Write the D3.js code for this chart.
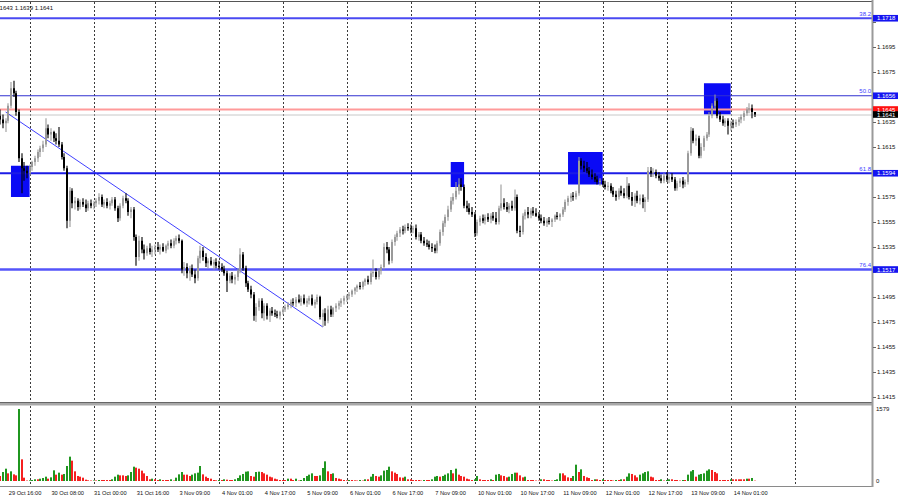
<!DOCTYPE html>
<html><head><meta charset="utf-8">
<script src="https://cdn.jsdelivr.net/npm/d3@7"></script>
<style>body{margin:0;background:#fff}svg{display:block}text{font-family:"Liberation Sans",Arial,sans-serif}</style>
</head><body><svg id="c" width="900" height="500"></svg>
<script>
// ---- DATA (EURUSD H1) ----
const opens=[
1.1640,1.1637,1.1634,1.1636,1.1648,1.1662,1.1658,1.1643,1.1606,1.1598,1.1596,1.1594,
1.1599,1.1603,1.1606,1.1611,1.1614,1.1617,1.1630,1.1625,1.1627,1.1622,1.1620,1.1617,1.1607,1.1598,1.1556,1.1580,1.1570,1.1572,1.1567,1.1571,1.1569,1.1566,1.1570,1.1568,
1.1570,1.1572,1.1575,1.1569,1.1571,1.1568,1.1570,1.1573,1.1566,1.1558,1.1568,1.1574,1.1572,1.1563,1.1565,1.1543,1.1527,1.1540,1.1533,1.1530,1.1534,1.1531,1.1533,1.1535,
1.1533,1.1535,1.1532,1.1536,1.1538,1.1536,1.1540,1.1542,1.1540,1.1517,1.1519,1.1514,1.1518,1.1513,1.1510,1.1526,1.1532,1.1527,1.1522,1.1524,1.1521,1.1523,1.1520,1.1519,
1.1517,1.1514,1.1508,1.1512,1.1509,1.1511,1.1516,1.1529,1.1518,1.1506,1.1501,1.1497,1.1480,1.1487,1.1492,1.1482,1.1488,1.1480,1.1484,1.1482,1.1481,1.1480,
1.1483,1.1485,1.1487,1.1489,1.1491,1.1490,1.1493,1.1491,1.1494,1.1490,1.1492,1.1494,1.1489,1.1491,1.1495,1.1479,1.1482,1.1476,1.1485,1.1481,1.1486,1.1488,1.1490,1.1492,1.1494,
1.1496,1.1497,1.1500,1.1502,1.1504,1.1503,1.1507,1.1509,1.1507,1.1514,1.1515,1.1511,1.1516,1.1519,1.1535,1.1533,1.1524,1.1539,1.1543,1.1546,1.1549,1.1548,1.1551,1.1550,1.1549,
1.1550,1.1543,1.1545,1.1540,1.1538,1.1537,1.1535,1.1534,1.1532,1.1538,1.1547,1.1554,1.1559,1.1565,1.1572,1.1575,1.1580,1.1585,1.1583,1.1568,1.1566,1.1563,1.1561,1.1546,
1.1555,1.1558,1.1556,1.1559,1.1557,1.1560,1.1558,1.1555,1.1566,1.1570,1.1567,1.1565,1.1568,1.1566,1.1575,1.1548,1.1547,1.1560,1.1563,1.1561,1.1564,1.1562,1.1560,1.1558,
1.1556,1.1554,1.1556,1.1555,1.1557,1.1560,1.1559,1.1561,1.1565,1.1571,1.1574,1.1576,1.1575,1.1578,1.1604,1.1600,1.1598,1.1596,1.1593,1.1591,1.1589,1.1587,1.1588,
1.1585,1.1583,1.1584,1.1580,1.1577,1.1575,1.1580,1.1578,1.1576,1.1584,1.1575,1.1572,1.1576,1.1572,1.1574,1.1571,1.1573,1.1596,1.1594,1.1595,1.1592,1.1590,1.1588,1.1592,1.1589,
1.1591,1.1589,1.1582,1.1586,1.1588,1.1585,1.1587,1.1610,1.1628,1.1620,1.1622,1.1608,1.1615,1.1622,1.1625,1.1640,1.1648,1.1652,1.1640,1.1637,1.1634,1.1636,1.1632,1.1634,1.1633,1.1635,1.1637,1.1639,1.1642,1.1645,1.1646,1.1643];
const highs=[
1.1645,1.1641,1.1638,1.1650,1.1667,1.1668,1.1660,1.1645,1.1610,1.1603,1.1600,1.1601,
1.1604,1.1608,1.1613,1.1616,1.1620,1.1638,1.1633,1.1630,1.1628,1.1626,1.1631,1.1619,1.1610,1.1600,1.1583,1.1582,1.1575,1.1574,1.1573,1.1574,1.1573,1.1572,1.1573,1.1572,
1.1574,1.1578,1.1577,1.1573,1.1574,1.1572,1.1575,1.1575,1.1568,1.1570,1.1576,1.1578,1.1574,1.1567,1.1567,1.1545,1.1544,1.1543,1.1537,1.1536,1.1538,1.1536,1.1537,1.1539,
1.1537,1.1538,1.1537,1.1540,1.1541,1.1542,1.1544,1.1545,1.1541,1.1523,1.1522,1.1520,1.1521,1.1517,1.1528,1.1536,1.1535,1.1530,1.1526,1.1527,1.1525,1.1526,1.1524,1.1522,
1.1520,1.1516,1.1514,1.1515,1.1513,1.1518,1.1534,1.1531,1.1520,1.1508,1.1504,1.1499,1.1490,1.1494,1.1494,1.1490,1.1490,1.1486,1.1487,1.1485,1.1484,1.1484,
1.1487,1.1489,1.1491,1.1493,1.1494,1.1495,1.1497,1.1496,1.1497,1.1494,1.1496,1.1497,1.1493,1.1497,1.1496,1.1485,1.1486,1.1488,1.1488,1.1487,1.1490,1.1492,1.1494,1.1496,1.1497,
1.1499,1.1501,1.1503,1.1505,1.1507,1.1508,1.1510,1.1512,1.1516,1.1525,1.1518,1.1518,1.1521,1.1538,1.1539,1.1535,1.1541,1.1545,1.1548,1.1551,1.1552,1.1553,1.1554,1.1553,1.1552,
1.1553,1.1547,1.1547,1.1543,1.1541,1.1540,1.1538,1.1537,1.1540,1.1549,1.1556,1.1561,1.1568,1.1575,1.1578,1.1587,1.1590,1.1590,1.1585,1.1572,1.1570,1.1567,1.1563,1.1557,
1.1560,1.1561,1.1561,1.1562,1.1562,1.1563,1.1563,1.1568,1.1585,1.1574,1.1571,1.1570,1.1572,1.1581,1.1577,1.1552,1.1562,1.1565,1.1567,1.1566,1.1567,1.1566,1.1563,1.1561,
1.1559,1.1558,1.1559,1.1558,1.1561,1.1563,1.1562,1.1567,1.1573,1.1576,1.1578,1.1579,1.1580,1.1607,1.1606,1.1604,1.1603,1.1599,1.1597,1.1594,1.1592,1.1590,1.1590,
1.1588,1.1587,1.1586,1.1583,1.1580,1.1582,1.1584,1.1582,1.1591,1.1586,1.1579,1.1578,1.1580,1.1577,1.1577,1.1575,1.1599,1.1599,1.1598,1.1597,1.1595,1.1593,1.1594,1.1595,1.1594,
1.1594,1.1591,1.1588,1.1590,1.1591,1.1589,1.1612,1.1631,1.1630,1.1625,1.1624,1.1618,1.1624,1.1627,1.1643,1.1650,1.1657,1.1654,1.1643,1.1640,1.1638,1.1638,1.1636,1.1637,1.1637,1.1639,1.1641,1.1644,1.1647,1.1650,1.1649,1.1643];
const lows=[
1.1633,1.1630,1.1627,1.1634,1.1646,1.1655,1.1640,1.1603,1.1578,1.1588,1.1590,1.1592,
1.1596,1.1600,1.1603,1.1607,1.1611,1.1615,1.1622,1.1620,1.1619,1.1617,1.1615,1.1605,1.1596,1.1550,1.1551,1.1566,1.1565,1.1564,1.1565,1.1567,1.1563,1.1564,1.1566,1.1565,
1.1567,1.1569,1.1567,1.1566,1.1566,1.1565,1.1568,1.1564,1.1555,1.1556,1.1566,1.1570,1.1560,1.1558,1.1540,1.1520,1.1524,1.1530,1.1525,1.1528,1.1529,1.1527,1.1529,1.1531,
1.1529,1.1531,1.1530,1.1533,1.1534,1.1534,1.1537,1.1538,1.1514,1.1512,1.1510,1.1508,1.1511,1.1506,1.1508,1.1522,1.1524,1.1519,1.1518,1.1520,1.1517,1.1518,1.1517,1.1515,
1.1512,1.1499,1.1506,1.1506,1.1505,1.1508,1.1514,1.1516,1.1503,1.1499,1.1494,1.1476,1.1475,1.1484,1.1478,1.1476,1.1477,1.1475,1.1480,1.1479,1.1478,1.1477,
1.1481,1.1483,1.1485,1.1486,1.1488,1.1487,1.1490,1.1488,1.1489,1.1487,1.1489,1.1488,1.1486,1.1489,1.1477,1.1471,1.1472,1.1474,1.1479,1.1479,1.1483,1.1485,1.1487,1.1489,1.1491,
1.1493,1.1495,1.1497,1.1499,1.1501,1.1501,1.1504,1.1505,1.1505,1.1511,1.1509,1.1509,1.1513,1.1517,1.1530,1.1521,1.1522,1.1536,1.1540,1.1543,1.1545,1.1546,1.1548,1.1546,1.1546,
1.1541,1.1540,1.1538,1.1536,1.1535,1.1533,1.1531,1.1530,1.1530,1.1536,1.1544,1.1551,1.1556,1.1563,1.1569,1.1573,1.1577,1.1580,1.1566,1.1563,1.1561,1.1559,1.1543,1.1544,
1.1552,1.1554,1.1553,1.1555,1.1554,1.1556,1.1553,1.1553,1.1564,1.1565,1.1563,1.1562,1.1564,1.1564,1.1546,1.1543,1.1545,1.1557,1.1558,1.1558,1.1560,1.1559,1.1556,1.1554,
1.1552,1.1551,1.1553,1.1551,1.1555,1.1557,1.1556,1.1559,1.1563,1.1568,1.1571,1.1572,1.1573,1.1576,1.1597,1.1595,1.1594,1.1591,1.1589,1.1587,1.1585,1.1584,1.1583,
1.1581,1.1580,1.1578,1.1575,1.1572,1.1573,1.1576,1.1574,1.1574,1.1573,1.1568,1.1567,1.1570,1.1569,1.1566,1.1563,1.1571,1.1591,1.1591,1.1590,1.1588,1.1586,1.1586,1.1587,1.1586,
1.1587,1.1580,1.1580,1.1583,1.1582,1.1583,1.1585,1.1608,1.1618,1.1616,1.1606,1.1606,1.1612,1.1620,1.1623,1.1638,1.1645,1.1638,1.1635,1.1632,1.1631,1.1625,1.1628,1.1630,1.1631,1.1632,1.1634,1.1636,1.1640,1.1642,1.1638,1.1639];
const closes=[
1.1637,1.1634,1.1636,1.1648,1.1662,1.1658,1.1643,1.1606,1.1598,1.1596,1.1594,1.1599,
1.1603,1.1606,1.1611,1.1614,1.1617,1.1630,1.1625,1.1627,1.1622,1.1620,1.1617,1.1607,1.1598,1.1556,1.1580,1.1570,1.1572,1.1567,1.1571,1.1569,1.1566,1.1570,1.1568,1.1570,
1.1572,1.1575,1.1569,1.1571,1.1568,1.1570,1.1573,1.1566,1.1558,1.1568,1.1574,1.1572,1.1563,1.1565,1.1543,1.1527,1.1540,1.1533,1.1530,1.1534,1.1531,1.1533,1.1535,1.1533,
1.1535,1.1532,1.1536,1.1538,1.1536,1.1540,1.1542,1.1540,1.1517,1.1519,1.1514,1.1518,1.1513,1.1510,1.1526,1.1532,1.1527,1.1522,1.1524,1.1521,1.1523,1.1520,1.1519,1.1517,
1.1514,1.1508,1.1512,1.1509,1.1511,1.1516,1.1529,1.1518,1.1506,1.1501,1.1497,1.1480,1.1487,1.1492,1.1482,1.1488,1.1480,1.1484,1.1482,1.1481,1.1480,1.1483,
1.1485,1.1487,1.1489,1.1491,1.1490,1.1493,1.1491,1.1494,1.1490,1.1492,1.1494,1.1489,1.1491,1.1495,1.1479,1.1482,1.1476,1.1485,1.1481,1.1486,1.1488,1.1490,1.1492,1.1494,1.1496,
1.1497,1.1500,1.1502,1.1504,1.1503,1.1507,1.1509,1.1507,1.1514,1.1515,1.1511,1.1516,1.1519,1.1535,1.1533,1.1524,1.1539,1.1543,1.1546,1.1549,1.1548,1.1551,1.1550,1.1549,1.1550,
1.1543,1.1545,1.1540,1.1538,1.1537,1.1535,1.1534,1.1532,1.1538,1.1547,1.1554,1.1559,1.1565,1.1572,1.1575,1.1580,1.1585,1.1583,1.1568,1.1566,1.1563,1.1561,1.1546,1.1555,
1.1558,1.1556,1.1559,1.1557,1.1560,1.1558,1.1555,1.1566,1.1570,1.1567,1.1565,1.1568,1.1566,1.1575,1.1548,1.1547,1.1560,1.1563,1.1561,1.1564,1.1562,1.1560,1.1558,1.1556,
1.1554,1.1556,1.1555,1.1557,1.1560,1.1559,1.1561,1.1565,1.1571,1.1574,1.1576,1.1575,1.1578,1.1604,1.1600,1.1598,1.1596,1.1593,1.1591,1.1589,1.1587,1.1588,1.1585,
1.1583,1.1584,1.1580,1.1577,1.1575,1.1580,1.1578,1.1576,1.1584,1.1575,1.1572,1.1576,1.1572,1.1574,1.1571,1.1573,1.1596,1.1594,1.1595,1.1592,1.1590,1.1588,1.1592,1.1589,1.1591,
1.1589,1.1582,1.1586,1.1588,1.1585,1.1587,1.1610,1.1628,1.1620,1.1622,1.1608,1.1615,1.1622,1.1625,1.1640,1.1648,1.1652,1.1640,1.1637,1.1634,1.1636,1.1632,1.1634,1.1633,1.1635,1.1637,1.1639,1.1642,1.1645,1.1646,1.1643,1.1641];
const volumes=[
110,197,270,168,212,146,124,1579,475,73,10,15,
22,37,37,51,66,95,51,80,234,139,183,139,
154,329,534,446,212,110,95,73,29,15,10,12,
12,22,22,22,22,22,37,95,139,124,124,110,
124,197,314,292,270,227,168,110,37,51,37,22,
37,22,22,22,37,10,73,146,197,139,139,110,
139,168,183,329,146,95,66,51,22,15,22,22,
37,29,22,22,37,66,124,154,205,212,110,95,
197,205,197,168,139,95,80,51,37,22,22,22,
51,51,22,51,10,22,66,110,139,168,110,110,
124,285,431,212,154,168,66,51,37,22,15,22,
22,15,10,22,10,37,37,95,154,110,95,124,
227,241,314,212,183,154,80,73,95,37,37,22,
22,22,10,22,22,22,37,95,110,95,110,139,
168,241,168,270,139,110,95,51,37,22,37,110,
37,22,22,22,37,22,139,154,124,110,80,95,
154,183,183,124,80,95,22,22,22,10,10,37,
37,22,22,10,22,37,168,168,124,80,66,110,
358,197,256,110,80,66,22,37,37,22,37,22,
22,22,10,22,22,37,37,95,168,154,124,80,
139,168,197,212,95,80,22,22,37,10,22,37,
37,22,22,10,22,22,139,212,241,95,139,154,
168,227,256,241,197,168,22,22,22,22,37,37,
37,37,37,37,51,51,66,8];

const timeTickBars=[-13,3,19,35,51,67,83,99,115,131,147,163,179,195,211,227,243,259,275];
const timeTickLabels=["29 Oct 00:00","29 Oct 16:00","30 Oct 08:00","31 Oct 00:00","31 Oct 16:00","3 Nov 09:00","4 Nov 01:00","4 Nov 17:00","5 Nov 09:00","6 Nov 01:00","6 Nov 17:00","7 Nov 09:00","10 Nov 01:00","10 Nov 17:00","11 Nov 09:00","12 Nov 01:00","12 Nov 17:00","13 Nov 09:00","14 Nov 01:00"];
const gridBars=[11,35,58,82,106,130,154,178,202,226,250,274,298];
const priceTicks=[1.1415,1.1435,1.1455,1.1475,1.1495,1.1515,1.1535,1.1555,1.1575,1.1595,1.1615,1.1635,1.1655,1.1675,1.1695,1.1715];
const fibLabels=["38.2","50.0","61.8","76.4"];
const fibPrices=[1.1718,1.1656,1.1594,1.1517];
const askPrice=1.1645, bidPrice=1.1641;
const zoneStartBar=[4,169,213,264], zoneEndBar=[11,174,226,274];
const zoneTop=[1.1600,1.1603,1.1611,1.1666], zoneBottom=[1.1575,1.1583,1.1585,1.1641];
const trendBars=[2,121], trendPrices=[1.1643,1.1471];
const volumeMax=1579;
const headerText="EURUSD,H1  1.1643 1.1643 1.1639 1.1641";

// ---- LAYOUT ----
const svg=d3.select("#c");
const AX=872;            // right axis x
const x=d3.scaleLinear().domain([0,283]).range([0.3,754.6]);
const y=d3.scaleLinear().domain([1.1415,1.1718]).range([397,18.25]);
const v=d3.scaleLinear().domain([0,volumeMax]).range([481,409]);

svg.append("rect").attr("width",900).attr("height",500).attr("fill","#fff");
const defs=svg.append("defs");
defs.append("clipPath").attr("id","pc").append("rect").attr("x",0).attr("y",2).attr("width",AX).attr("height",400);
defs.append("clipPath").attr("id","vc").append("rect").attr("x",0).attr("y",406).attr("width",AX).attr("height",80);

// grid
svg.append("g").selectAll("line").data(gridBars).join("line")
  .attr("x1",d=>Math.round(x(d))+0.5).attr("x2",d=>Math.round(x(d))+0.5)
  .attr("y1",2).attr("y2",486)
  .attr("stroke","#3a3a3a").attr("stroke-width",1).attr("stroke-dasharray","2,2");

const pg=svg.append("g").attr("clip-path","url(#pc)");
// zones
pg.append("g").selectAll("rect").data(zoneStartBar).join("rect")
  .attr("x",(d,i)=>x(d)).attr("width",(d,i)=>x(zoneEndBar[i])-x(d))
  .attr("y",(d,i)=>y(zoneTop[i])).attr("height",(d,i)=>y(zoneBottom[i])-y(zoneTop[i]))
  .attr("fill","#0a0af5");
// fib lines
const fibStyle=[{c:"#4a4af2",w:2},{c:"#3030d0",w:1},{c:"#1c1ce6",w:2},{c:"#5555fa",w:2.5}];
pg.append("g").selectAll("line").data(fibPrices).join("line")
  .attr("x1",0).attr("x2",AX).attr("y1",d=>y(d)).attr("y2",d=>y(d))
  .attr("stroke",(d,i)=>fibStyle[i].c).attr("stroke-width",(d,i)=>fibStyle[i].w);
pg.append("line").attr("x1",0).attr("x2",AX).attr("y1",y(askPrice)).attr("y2",y(askPrice))
  .attr("stroke","#ff9a9a").attr("stroke-width",2);
pg.append("line").attr("x1",0).attr("x2",AX).attr("y1",y(bidPrice)+0.5).attr("y2",y(bidPrice)+0.5)
  .attr("stroke","#c8c8c8").attr("stroke-width",1);
// trend line
pg.append("line").attr("x1",x(trendBars[0])).attr("y1",y(trendPrices[0]))
  .attr("x2",x(trendBars[1])).attr("y2",y(trendPrices[1]))
  .attr("stroke","#2a2aff").attr("stroke-width",0.9);

// candles
const bars=d3.range(closes.length).map(i=>({i,o:opens[i],h:highs[i],l:lows[i],c:closes[i],vol:volumes[i]}));
const col=d=>d.c>d.o?"#9a9a9a":"#000";
const cg=pg.append("g");
cg.selectAll("line").data(bars).join("line")
  .attr("x1",d=>Math.round(x(d.i))).attr("x2",d=>Math.round(x(d.i)))
  .attr("y1",d=>y(d.h)).attr("y2",d=>y(d.l))
  .attr("stroke",col).attr("stroke-width",1.1);
cg.selectAll("rect").data(bars).join("rect")
  .attr("x",d=>Math.round(x(d.i))-1).attr("width",2)
  .attr("y",d=>y(Math.max(d.o,d.c)))
  .attr("height",d=>Math.max(1,Math.abs(y(d.o)-y(d.c))))
  .attr("fill",col);

// volumes
const vg=svg.append("g").attr("clip-path","url(#vc)");
vg.selectAll("rect").data(bars).join("rect")
  .attr("x",d=>Math.round(x(d.i))-1).attr("width",2)
  .attr("y",d=>v(d.vol)).attr("height",d=>v(0)-v(d.vol))
  .attr("fill",d=>(d.i>0&&d.vol>volumes[d.i-1])?"#1f961f":"#f52020");

// frame
svg.append("rect").attr("x",AX).attr("y",0).attr("width",900-AX).attr("height",500).attr("fill","#fff");
svg.append("line").attr("x1",0).attr("x2",AX).attr("y1",1.5).attr("y2",1.5).attr("stroke","#555").attr("stroke-width",1);
svg.append("rect").attr("x",0).attr("y",402).attr("width",AX+1).attr("height",3.5).attr("fill","#a8a8a8");
svg.append("line").attr("x1",0).attr("x2",AX).attr("y1",402.5).attr("y2",402.5).attr("stroke","#666");
svg.append("line").attr("x1",0).attr("x2",AX+1).attr("y1",486.5).attr("y2",486.5).attr("stroke","#8a8a8a").attr("stroke-width",1.2);
svg.append("line").attr("x1",AX+0.5).attr("x2",AX+0.5).attr("y1",0).attr("y2",487).attr("stroke","#9a9a9a").attr("stroke-width",2);

// header
svg.append("text").attr("x",53).attr("y",9.5).attr("text-anchor","end").attr("font-size",6).attr("fill","#111").text(headerText);

// price axis (labels hidden where a value box sits)
const boxPrices=fibPrices.concat([askPrice,bidPrice]);
const ag=svg.append("g");
ag.selectAll("line").data(priceTicks).join("line")
  .attr("x1",AX+1).attr("x2",AX+4).attr("y1",d=>Math.round(y(d))+0.5).attr("y2",d=>Math.round(y(d))+0.5)
  .attr("stroke","#666");
ag.selectAll("text").data(priceTicks.filter(t=>boxPrices.every(b=>Math.abs(y(b)-y(t))>5.5))).join("text")
  .attr("x",AX+5).attr("y",d=>y(d)+2.2).attr("font-size",6).attr("fill","#111")
  .text(d=>d.toFixed(4));

// fib level texts
svg.append("g").selectAll("text").data(fibPrices).join("text")
  .attr("x",AX-1).attr("y",d=>y(d)-2.3).attr("text-anchor","end").attr("font-size",6)
  .attr("fill","#3c3cff").text((d,i)=>fibLabels[i]);

// value boxes
const boxes=fibPrices.map(p=>({p,bg:"#1414f0"})).concat([{p:askPrice,bg:"#ff1010"},{p:bidPrice,bg:"#000"}]);
const bg=svg.append("g");
bg.selectAll("rect").data(boxes).join("rect")
  .attr("x",AX+1).attr("width",25).attr("y",d=>y(d.p)-3.3).attr("height",6.6).attr("fill",d=>d.bg);
bg.selectAll("text").data(boxes).join("text")
  .attr("x",AX+5).attr("y",d=>y(d.p)+2.2).attr("font-size",6).attr("fill","#fff").text(d=>d.p.toFixed(4));

// volume axis
svg.append("text").attr("x",AX+4).attr("y",411).attr("font-size",6).attr("fill","#111").text(String(volumeMax));
svg.append("text").attr("x",AX+4).attr("y",483).attr("font-size",6).attr("fill","#111").text("0");

// time axis
const tg=svg.append("g");
tg.selectAll("text").data(timeTickBars).join("text")
  .attr("x",d=>x(d)+0.5).attr("y",494.5).attr("font-size",5.7).attr("fill","#111")
  .text((d,i)=>timeTickLabels[i]);
</script></body></html>
